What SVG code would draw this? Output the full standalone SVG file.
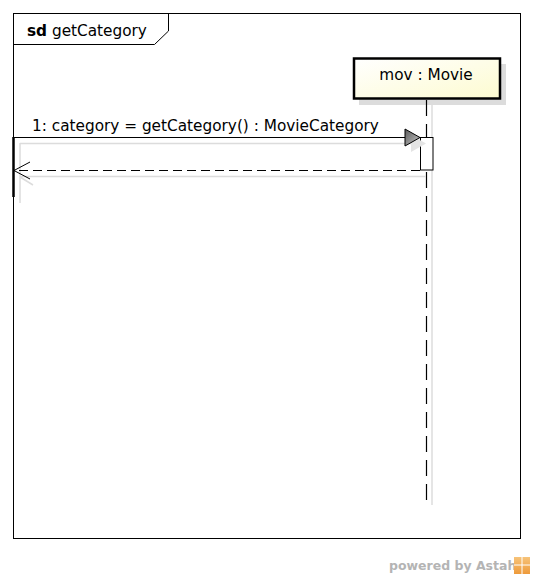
<svg xmlns="http://www.w3.org/2000/svg" width="533" height="578" viewBox="0 0 533 578">
<defs>
<linearGradient id="yg" x1="0" y1="0" x2="1" y2="1">
<stop offset="0" stop-color="#ffffff"/>
<stop offset="1" stop-color="#fdfbd0"/>
</linearGradient>
<linearGradient id="ag" x1="0" y1="0" x2="1" y2="1">
<stop offset="0" stop-color="#5a5a5a"/>
<stop offset="1" stop-color="#c8c8c8"/>
</linearGradient>
<linearGradient id="og" x1="0" y1="0" x2="0" y2="1">
<stop offset="0" stop-color="#f6c37a"/>
<stop offset="1" stop-color="#ee9a3a"/>
</linearGradient>
</defs>
<style>
text{font-family:"DejaVu Sans","Liberation Sans",sans-serif;font-size:15.3px;fill:#000}
.sh{stroke:#dcdcdc;fill:none;stroke-width:1.5}
.ln{stroke:#000;fill:none;stroke-width:1}
</style>
<rect width="533" height="578" fill="#fff"/>
<g id="frame">
<rect x="13.5" y="13.5" width="507" height="525" fill="none" stroke="#000" stroke-width="1"/>
<path d="M13.5 44.5 H154.5 L168.5 31 V13.5" fill="none" stroke="#000" stroke-width="1"/>
<text x="27" y="36"><tspan font-weight="bold">sd</tspan> getCategory</text>
</g>
<g id="mov">
<rect x="359" y="64" width="147" height="41" fill="#dcdcdc"/>
<line x1="432" y1="104" x2="432" y2="505" class="sh"/>
<rect x="354" y="58.5" width="146" height="40" fill="url(#yg)" stroke="#000" stroke-width="2.5"/>
<text x="426" y="80" text-anchor="middle">mov : Movie</text>
<line x1="426.5" y1="100" x2="426.5" y2="500" stroke="#000" stroke-width="1.2" stroke-dasharray="16 8"/>
<rect x="420.5" y="137.5" width="12.5" height="32.5" fill="#fff" stroke="#000" stroke-width="1"/>
</g>
<g id="connectors">
<path d="M20 143.5 H420 M20 143 V203 M20 176.5 H426 M20 177 L33 185" class="sh"/>
<path d="M411 135 L426 143.5 L411 152 Z" fill="#e4e4e4"/>
<line x1="13" y1="137.5" x2="420" y2="137.5" class="ln"/>
<path d="M405 129 L420 137.5 L405 146 Z" fill="url(#ag)" stroke="#000" stroke-width="1"/>
<line x1="420" y1="170.5" x2="16" y2="170.5" class="ln" stroke-dasharray="9 5"/>
<path d="M30 162 L14 170.5 L30 179" class="ln"/>
<line x1="13.5" y1="137" x2="13.5" y2="197" stroke="#000" stroke-width="2.5"/>
<text x="32" y="131">1: category = getCategory() : MovieCategory</text>
</g>
<g id="footer">
<text x="389" y="570" style="font-size:12.5px;font-weight:bold;fill:#b4b4b4">powered by Astah</text>
<rect x="514" y="557" width="16" height="17" fill="url(#og)"/>
<path d="M514 565 H530 M522 557 V574" stroke="#fff" stroke-width="1"/>
</g>
</svg>
